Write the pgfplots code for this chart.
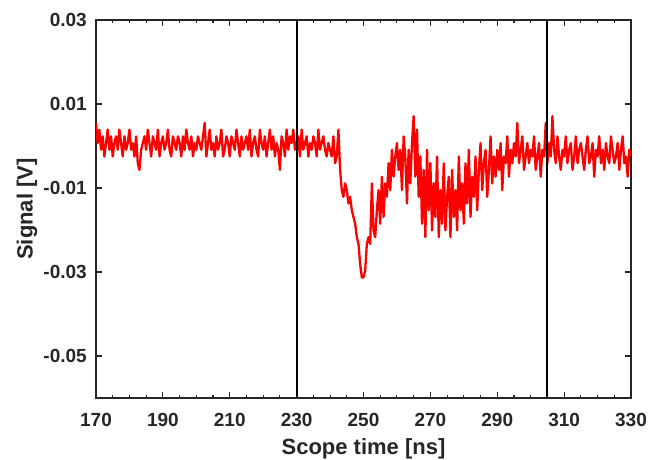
\documentclass[border=0pt]{standalone}
\usepackage{pgfplots}
\pgfplotsset{compat=1.18}
\usepackage{fontspec}
\setmainfont{Liberation Sans}
\definecolor{axgray}{HTML}{262626}
\begin{document}
\begin{tikzpicture}
\begin{axis}[
 scale only axis, width=535pt, height=378pt,
 xmin=170, xmax=330, ymin=-0.06, ymax=0.03,
 xtick={170,190,...,330}, xticklabels={170,190,210,230,250,270,290,310,330},
 ytick={-0.05,-0.03,-0.01,0.01,0.03}, yticklabels={-0.05,-0.03,-0.01,0.01,0.03},
 scaled y ticks=false, scaled x ticks=false,
 minor x tick num=3,
 tick align=inside, tick pos=both,
 major tick length=6pt, minor tick length=3pt,
 axis line style={axgray, line width=1.1pt},
 every tick/.style={axgray, line width=1.1pt},
 ticklabel style={font=\fontsize{19}{23}\selectfont\bfseries, text=axgray, inner sep=0pt},
 xticklabel style={anchor=north, yshift=-15pt},
 yticklabel style={anchor=east, xshift=-9pt},
 label style={font=\fontsize{22}{26}\selectfont\bfseries, text=axgray, inner sep=0pt},
 xlabel={Scope time [ns]}, ylabel={Signal [V]},
 xlabel style={at={(axis description cs:0.5,0)}, anchor=north, yshift=-40pt},
 ylabel style={at={(axis description cs:0,0.5)}, anchor=center, rotate=0, yshift=69pt},
]
\addplot[red, line width=2.3pt, line join=round] table {
x y
170 0.0055
170.5 0.0007
171 0.0039
171.5 -0.0009
172 0.0023
172.5 -0.0025
173 0.0007
173.5 0.0039
174 -0.0009
174.5 0.0023
175 -0.0025
175.5 0.0007
176 0.0023
176.5 -0.0009
177 0.0039
177.5 0.0007
178 -0.0025
178.5 0.0023
179 -0.0009
179.5 0.0007
180 0.0039
180.5 -0.0009
181 0.0007
181.5 -0.0025
182 0.0023
182.5 -0.0041
183 -0.0057
183.5 -0.0009
184 0.0007
184.5 0.0023
185 -0.0009
185.5 0.0039
186 0.0007
186.5 -0.0025
187 0.0023
187.5 0.0007
188 -0.0009
188.5 0.0039
189 -0.0025
189.5 0.0007
190 0.0023
190.5 -0.0009
191 0.0007
191.5 0.0039
192 -0.0009
192.5 -0.0025
193 0.0023
193.5 0.0007
194 -0.0009
194.5 0.0023
195 0.0007
195.5 -0.0025
196 0.0023
196.5 -0.0009
197 0.0039
197.5 0.0007
198 -0.0009
198.5 0.0023
199 -0.0025
199.5 0.0007
200 -0.0009
200.5 0.0023
201 0.0007
201.5 -0.0009
202 0.0023
202.5 0.0055
203 -0.0025
203.5 0.0007
204 0.0039
204.5 -0.0009
205 0.0007
205.5 -0.0025
206 0.0023
206.5 -0.0009
207 0.0007
207.5 0.0039
208 -0.0025
208.5 -0.0009
209 0.0023
209.5 0.0007
210 -0.0025
210.5 0.0023
211 0.0007
211.5 -0.0009
212 0.0039
212.5 0.0007
213 -0.0025
213.5 0.0023
214 -0.0009
214.5 0.0007
215 0.0023
215.5 -0.0009
216 0.0039
216.5 -0.0025
217 0.0007
217.5 0.0023
218 -0.0009
218.5 -0.0025
219 0.0039
219.5 0.0007
220 -0.0009
220.5 0.0023
221 -0.0025
221.5 0.0007
222 0.0039
222.5 -0.0009
223 0.0023
223.5 -0.0025
224 0.0007
224.5 -0.0009
225 -0.0057
225.5 0.0023
226 0.0007
226.5 -0.0025
227 0.0039
227.5 -0.0009
228 0.0023
228.5 0.0007
229 0.0039
229.5 -0.0009
230 0.0007
230.5 0.0023
231 -0.0025
231.5 0.0039
232 -0.0009
232.5 0.0007
233 0.0023
233.5 -0.0025
234 0.0007
234.5 -0.0009
235 0.0023
235.5 0.0007
236 -0.0025
236.5 0.0039
237 -0.0009
237.5 0.0007
238 0.0023
238.5 -0.0009
239 -0.0025
239.5 0.0007
240 -0.0009
240.5 -0.0025
241 0.0023
241.5 -0.0041
242 -0.0025
242.5 0.0039
243 -0.0057
243.5 -0.0105
244 -0.0121
244.5 -0.0089
245 -0.0105
245.5 -0.0137
246 -0.0121
246.5 -0.0153
247 -0.0169
247.5 -0.0185
248 -0.0217
248.5 -0.0233
249 -0.0281
249.5 -0.0313
250 -0.0313
250.5 -0.0297
251 -0.0233
251.5 -0.0217
252 -0.0233
252.5 -0.0089
253 -0.0201
253.5 -0.0217
254 -0.0153
254.5 -0.0105
255 -0.0185
255.5 -0.0073
256 -0.0169
256.5 -0.0089
257 -0.0121
257.5 -0.0041
258 -0.0105
258.5 -0.0009
259 -0.0073
259.5 -0.0025
260 0.0007
260.5 -0.0057
261 -0.0009
261.5 -0.0105
262 0.0023
262.5 -0.0025
263 -0.0137
263.5 -0.0009
264 -0.0089
264.5 0.0007
265 0.0071
265.5 -0.0073
266 0.0039
266.5 -0.0121
267 -0.0025
267.5 -0.0185
268 -0.0057
268.5 -0.0217
269 -0.0009
269.5 -0.0153
270 -0.0041
270.5 -0.0201
271 -0.0089
271.5 -0.0169
272 -0.0025
272.5 -0.0217
273 -0.0105
273.5 -0.0185
274 -0.0041
274.5 -0.0201
275 -0.0121
275.5 -0.0073
276 -0.0217
276.5 -0.0057
277 -0.0169
277.5 -0.0105
278 -0.0201
278.5 -0.0025
279 -0.0153
279.5 -0.0089
280 -0.0185
280.5 -0.0041
281 -0.0137
281.5 -0.0009
282 -0.0169
282.5 -0.0073
283 -0.0121
283.5 -0.0025
284 -0.0153
284.5 -0.0057
285 0.0007
285.5 -0.0105
286 -0.0041
286.5 -0.0009
287 -0.0121
287.5 -0.0057
288 0.0023
288.5 -0.0089
289 -0.0025
289.5 -0.0073
290 -0.0009
290.5 -0.0057
291 0.0007
291.5 -0.0105
292 -0.0025
292.5 -0.0041
293 0.0023
293.5 -0.0073
294 -0.0009
294.5 -0.0041
295 0.0007
295.5 -0.0025
296 0.0055
296.5 -0.0041
297 -0.0009
297.5 0.0023
298 -0.0057
298.5 -0.0025
299 0.0007
299.5 -0.0041
300 -0.0009
300.5 -0.0025
301 0.0023
301.5 -0.0057
302 -0.0025
302.5 0.0007
303 -0.0073
303.5 -0.0009
304 -0.0025
304.5 0.0055
305 -0.0041
305.5 0.0007
306 -0.0025
306.5 0.0071
307 -0.0009
307.5 -0.0041
308 0.0023
308.5 -0.0025
309 -0.0057
309.5 -0.0009
310 -0.0025
310.5 0.0023
311 -0.0041
311.5 -0.0009
312 0.0007
312.5 -0.0057
313 -0.0025
313.5 0.0023
314 -0.0041
314.5 -0.0009
315 0.0007
315.5 -0.0025
316 -0.0057
316.5 -0.0009
317 0.0023
317.5 -0.0041
318 -0.0025
318.5 0.0007
319 -0.0073
319.5 -0.0009
320 -0.0025
320.5 0.0023
321 -0.0041
321.5 -0.0009
322 -0.0057
322.5 0.0007
323 -0.0025
323.5 -0.0041
324 0.0023
324.5 -0.0009
325 -0.0041
325.5 -0.0025
326 0.0007
326.5 -0.0057
327 -0.0009
327.5 0.0023
328 -0.0041
328.5 -0.0025
329 -0.0073
329.5 -0.0009
330 -0.0025
};
\addplot[black, line width=2pt] coordinates {(230,-0.06) (230,0.03)};
\addplot[black, line width=2pt] coordinates {(305,-0.06) (305,0.03)};
\coordinate (sw) at (rel axis cs:0,0);
\end{axis}
\path (sw) ++(-96pt,-61pt) rectangle ++(660pt,459pt);
\end{tikzpicture}
\end{document}
